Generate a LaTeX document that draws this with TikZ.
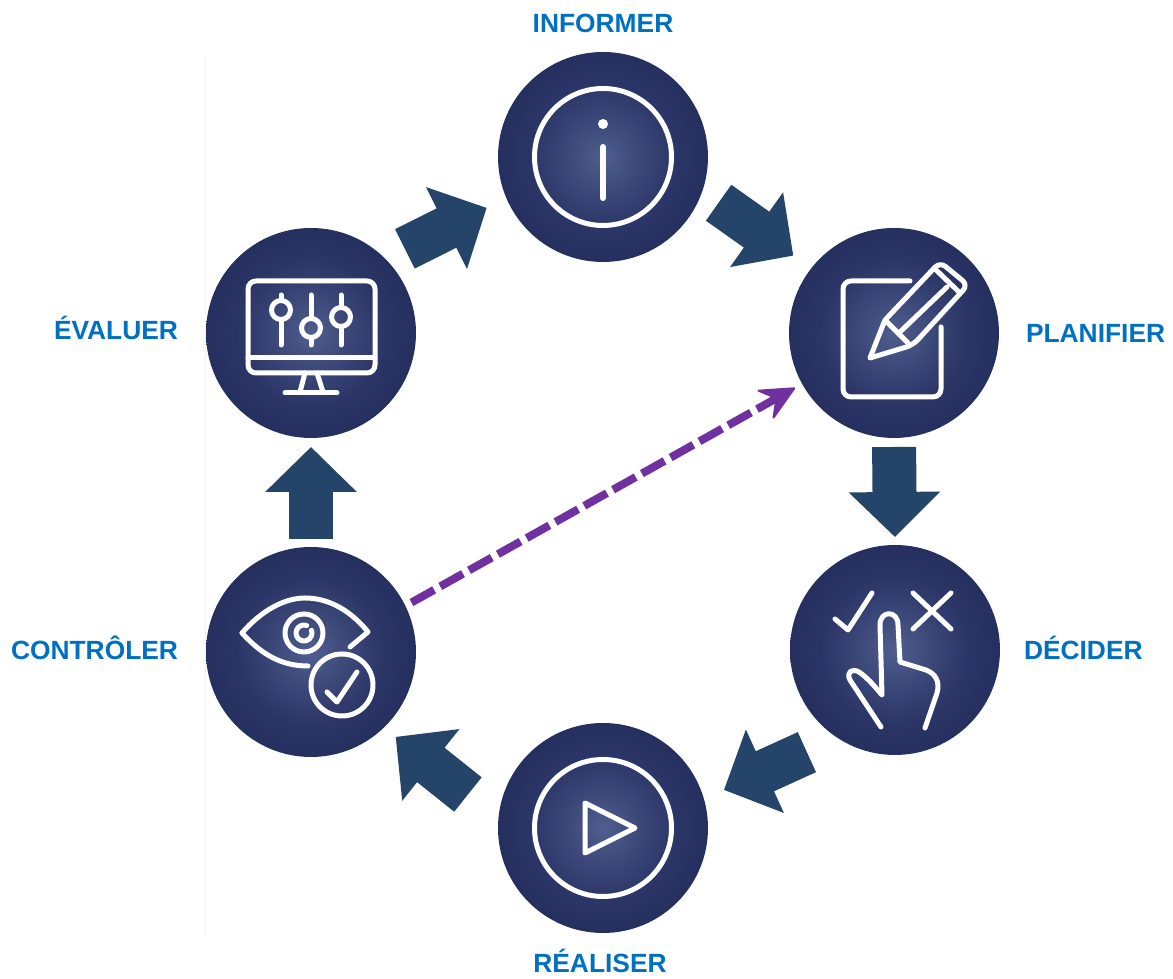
\documentclass[tikz,border=0pt]{standalone}
\usepackage{fontspec}
\setmainfont{Liberation Sans}
\usetikzlibrary{positioning}
\usetikzlibrary{arrows.meta}
\definecolor{labelblue}{HTML}{0070C0}
\definecolor{arrowblue}{HTML}{24446A}
\definecolor{dashpurple}{HTML}{7030A0}
\pgfdeclareradialshading{discshade}{\pgfpointorigin}{rgb(0bp)=(.31,.37,.56); rgb(9bp)=(.23,.28,.47); rgb(18bp)=(.165,.205,.4); rgb(25bp)=(.149,.188,.373); rgb(50bp)=(.149,.188,.373)}
\tikzset{
  disc/.style={circle, minimum size=21mm, inner sep=0pt, outer sep=0pt, shading=discshade},
  steplabel/.style={inner sep=0pt, outer sep=0pt, text=labelblue, font=\fontsize{7.5pt}{9pt}\selectfont\bfseries, text height=1.9mm, text depth=0pt},
  blockarrow/.style={arrowblue, line width=4.4mm, -{Triangle[length=4.5mm, width=8.9mm]}},
  dasharrow/.style={dashpurple, line width=.8mm, dash pattern=on 2.6mm off .7mm, -{Stealth[length=3.8mm, width=3.6mm, inset=1.4mm, line width=.2mm, round]}},
  iconline/.style={white, line width=.5mm, line cap=round, line join=round},
}
\begin{document}
\begin{tikzpicture}[x=.1mm, y=-.1mm]
    \useasboundingbox (0, 0) rectangle (1173, 979);
    \draw[black!5, line width=.1mm] (205, 55) -- (205, 935);
    \node[disc] (informer) at (603, 157) {};
    \node[disc] (planifier) at (894, 333) {};
    \node[disc] (decider) at (895, 650) {};
    \node[disc] (realiser) at (603, 828) {};
    \node[disc] (controler) at (311, 652) {};
    \node[disc] (evaluer) at (311, 333) {};
    \node[steplabel, above=1.9mm of informer] (informertext) {INFORMER};
    \node[steplabel, right=2.7mm of planifier] (planifiertext) {PLANIFIER};
    \node[steplabel, right=2.4mm of decider] (decidertext) {DÉCIDER};
    \node[steplabel, below=2.1mm of realiser, xshift=-.3mm] (realisertext) {RÉALISER};
    \node[steplabel, left=2.8mm of controler, yshift=.2mm] (controlertext) {CONTRÔLER};
    \node[steplabel, left=2.8mm of evaluer, yshift=.3mm] (evaluertext) {ÉVALUER};
    \draw[blockarrow, shorten <=2.2mm, shorten >=2.2mm] (evaluer.45) -- (informer.203);
    \draw[blockarrow, shorten <=2mm, shorten >=2.2mm] (informer.-19) -- (planifier.142);
    \draw[blockarrow, shorten <=.9mm, shorten >=.8mm] (planifier.-90) -- (decider.90);
    \draw[blockarrow, shorten <=3.4mm, shorten >=2.2mm] (decider.237) -- (realiser.16);
    \draw[blockarrow, shorten <=3.9mm, shorten >=1.5mm] (realiser.175) -- (controler.-46);
    \draw[blockarrow, shorten <=.8mm, shorten >=.9mm] (controler.90) -- (evaluer.-90);
    \draw[dasharrow, shorten <=.7mm, shorten >=.8mm] (controler.26) -- (planifier.209);
    \draw[iconline] (603, 157) circle (68.5);
    \fill[white] (603, 124) circle (5);
    \draw[iconline, line width=.6mm] (603, 147) -- (603, 198);
    \draw[iconline] (910, 281) -- (851, 281) [rounded corners=.8mm] -- (843, 281) -- (843, 397) -- (941, 397) [sharp corners] -- (941, 327);
    \draw[iconline, rounded corners=.3mm] (870, 358) -- (885, 320) [rounded corners=.7mm] -- (940, 262) -- (968, 285) -- (913, 345) [rounded corners=0pt] -- cycle;
    \draw[iconline] (885, 320) -- (908, 343);
    \draw[iconline] (900, 332) -- (947, 287);
    \draw[iconline] (934, 268) -- (960, 293);
    \draw[iconline] (835, 619) -- (848, 630) -- (872, 593);
    \draw[iconline] (913, 593) -- (951, 629);
    \draw[iconline] (951, 593) -- (913, 629);
    \draw[iconline] (881, 727) -- (850, 680) .. controls (846, 672) and (852, 668) .. (859, 672) .. controls (868, 678) and (876, 688) .. (882, 695) -- (880, 625) .. controls (880, 610) and (898, 610) .. (898, 625) -- (900, 662) -- (926, 670) .. controls (936, 674) and (940, 682) .. (937, 693) -- (925, 728);
    \draw[iconline] (603, 828) circle (68.5);
    \draw[iconline] (585, 803) -- (635, 828) -- (585, 853) -- cycle;
    \draw[iconline] (242, 633) .. controls (262, 610) and (285, 598) .. (305, 598) .. controls (330, 598) and (352, 612) .. (368, 632) -- (350, 647);
    \draw[iconline] (242, 633) .. controls (262, 655) and (282, 666) .. (308, 666);
    \draw[iconline] (304, 633) circle (19);
    \draw[iconline] (311.5, 630.3) arc[start angle=-20, end angle=290, radius=8];
    \draw[iconline] (342, 685) circle (31);
    \draw[iconline] (327, 692) -- (337, 702) -- (357, 672);
    \draw[iconline, rounded corners=.8mm] (248, 281) rectangle (375, 373);
    \draw[iconline] (248, 358) -- (375, 358);
    \draw[iconline] (305, 373) -- (300, 392);
    \draw[iconline] (317, 373) -- (323, 392);
    \draw[iconline] (285, 393) -- (337, 393);
    \draw[iconline] (281, 295) -- (281, 300) (281, 320) -- (281, 345);
    \draw[iconline] (281, 310) circle (9.5);
    \draw[iconline] (311, 295) -- (311, 318) (311, 338) -- (311, 345);
    \draw[iconline] (311, 328) circle (9.5);
    \draw[iconline] (341, 295) -- (341, 307) (341, 327) -- (341, 345);
    \draw[iconline] (341, 317) circle (9.5);
  \end{tikzpicture}
\end{document}
